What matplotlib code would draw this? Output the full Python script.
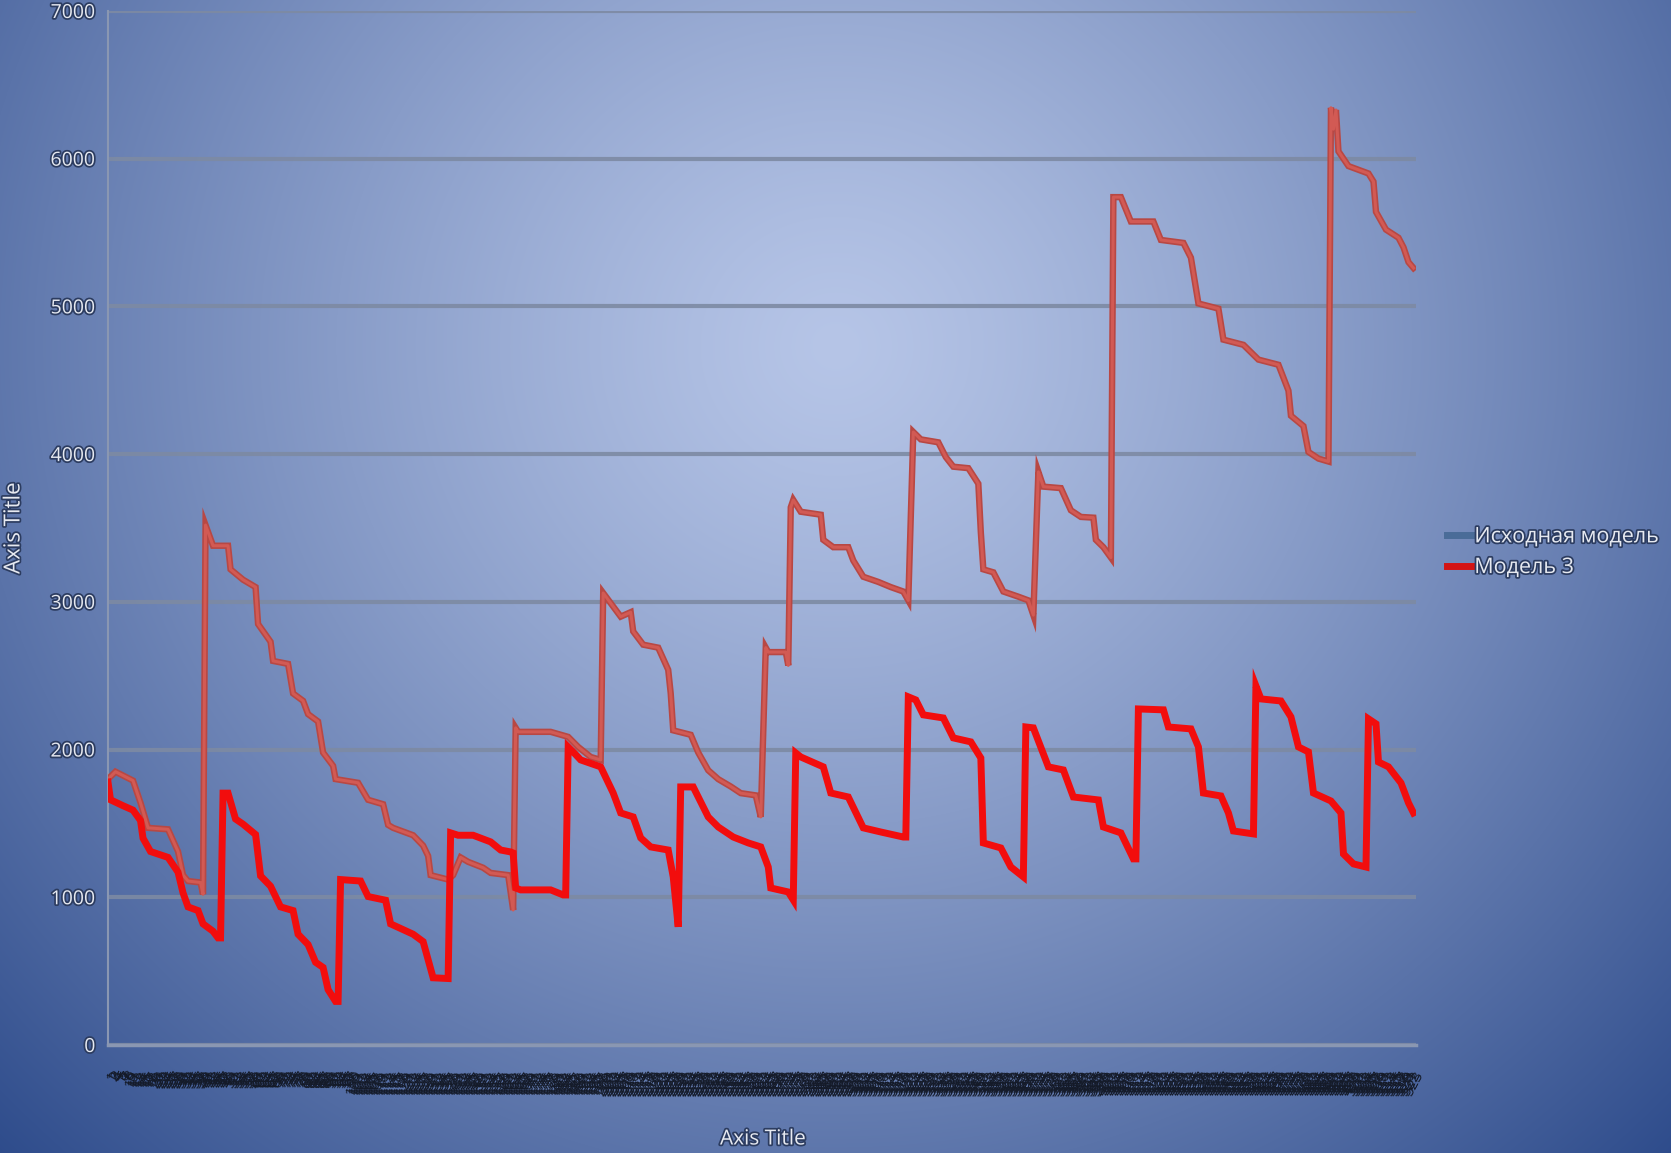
import numpy as np
import matplotlib
matplotlib.use("Agg")
import matplotlib.pyplot as plt
import matplotlib.patheffects as pe
from matplotlib.lines import Line2D

plt.rcParams['font.family'] = ['Open Sans', 'DejaVu Sans']

# series vertices: category index -> value
base_x = [0, 3, 10, 13, 16, 24, 28, 30, 32, 37, 38, 39, 42, 48, 49, 54, 59, 60, 65, 66,
          72, 74, 78, 80, 84, 86, 90, 91, 100, 104, 110, 112, 114, 122, 126, 128, 129, 136,
          138, 141, 144, 150, 153, 160, 162, 163, 164, 177, 184, 188, 193, 197, 198, 205,
          209, 210, 214, 220, 224, 225, 226, 233, 236, 240, 244, 249, 253, 259, 261, 263,
          264, 271, 272, 273, 274, 277, 285, 286, 290, 296, 298, 302, 308, 313, 318, 320,
          322, 325, 332, 335, 338, 344, 348, 349, 350, 354, 358, 364, 368, 370, 372, 374,
          381, 385, 389, 394, 395, 398, 401, 402, 405, 409, 418, 421, 430, 433, 436, 444,
          446, 454, 460, 468, 472, 473, 478, 480, 484, 488, 489, 490, 491, 492, 496, 504,
          506, 507, 511, 516, 518, 520, 522]
base_y = [1800, 1850, 1790, 1640, 1470, 1460, 1310, 1150, 1110, 1100, 1020, 3520, 3380, 3380,
          3220, 3150, 3100, 2850, 2730, 2600, 2580, 2380, 2330, 2240, 2190, 1980, 1890, 1800,
          1775, 1660, 1630, 1490, 1470, 1420, 1350, 1280, 1150, 1120, 1150, 1270, 1240, 1200,
          1165, 1150, 914, 2147, 2120, 2120, 2086, 2018, 1950, 1930, 3060, 2900, 2930, 2800,
          2710, 2690, 2540, 2380, 2130, 2100, 1980, 1860, 1800, 1750, 1705, 1690, 1544, 2690,
          2660, 2660, 2570, 3640, 3690, 3610, 3590, 3420, 3370, 3370, 3280, 3170, 3135, 3100,
          3070, 3010, 4150, 4100, 4080, 3980, 3915, 3905, 3800, 3470, 3220, 3200, 3070, 3035,
          3010, 2910, 3880, 3780, 3770, 3620, 3575, 3570, 3420, 3370, 3300, 5740, 5740, 5575,
          5575, 5450, 5430, 5330, 5020, 4985, 4775, 4740, 4640, 4605, 4430, 4260, 4190, 4015,
          3970, 3950, 6345, 6200, 6330, 6050, 5950, 5900, 5845, 5640, 5520, 5465, 5400, 5300,
          5260]

model3_x = [0, 1, 6, 10, 13, 14, 17, 24, 28, 30, 32, 36, 38, 42, 44, 45, 46, 48, 51, 54,
            59, 61, 65, 69, 74, 76, 80, 83, 86, 88, 91, 92, 93, 101, 104, 111, 113, 122, 126,
            129, 130, 136, 137, 140, 146, 153, 157, 161, 162, 163, 165, 177, 182, 183, 184,
            186, 189, 197, 202, 205, 210, 213, 217, 224, 226, 228, 229, 234, 240, 244, 250,
            256, 261, 264, 265, 272, 274, 275, 277, 286, 289, 296, 302, 309, 318, 319, 320,
            323, 326, 334, 338, 345, 349, 350, 357, 361, 366, 367, 370, 376, 382, 386, 396,
            398, 405, 410, 411, 412, 422, 424, 433, 436, 438, 445, 448, 450, 458, 459, 461,
            469, 473, 476, 480, 482, 489, 493, 494, 498, 503, 504, 507, 508, 512, 517, 520,
            522]
model3_y = [1780, 1660, 1620, 1590, 1520, 1400, 1310, 1270, 1170, 1030, 935, 910, 820, 770,
            725, 725, 1705, 1705, 1530, 1495, 1425, 1145, 1075, 935, 910, 750, 680, 560, 525,
            375, 295, 295, 1120, 1110, 1005, 980, 820, 750, 700, 515, 455, 450, 1436, 1420,
            1420, 1375, 1320, 1307, 1300, 1063, 1050, 1050, 1016, 1016, 2018, 1984, 1930,
            1883, 1706, 1571, 1544, 1402, 1341, 1320, 1138, 800, 1747, 1747, 1544, 1476,
            1408, 1368, 1341, 1205, 1063, 1036, 982, 1977, 1950, 1883, 1706, 1679, 1470, 1442,
            1408, 1408, 2357, 2336, 2235, 2214, 2079, 2052, 1943, 1368, 1334, 1205, 1138, 2153,
            2147, 1883, 1862, 1679, 1659, 1476, 1436, 1260, 1260, 2275, 2269, 2153, 2140, 2018,
            1706, 1686, 1571, 1449, 1429, 2431, 2343, 2329, 2221, 2018, 1984, 1706, 1652, 1571,
            1293, 1226, 1205, 2208, 2174, 1916, 1883, 1774, 1639, 1571]

n_categories = 523
category_labels = [str(i + 1) for i in range(n_categories)]
series_names = ["Исходная модель", "Модель 3"]
y_ticks = [0, 1000, 2000, 3000, 4000, 5000, 6000, 7000]

W, H = 1671, 1153
fig = plt.figure(figsize=(W / 100, H / 100), dpi=100)

# radial blue background
bg = fig.add_axes([0, 0, 1, 1], zorder=-10)
yy, xx = np.mgrid[0:H, 0:W]
r = np.sqrt(((xx - 0.50 * W) / (0.72 * W)) ** 2 + ((yy - 0.30 * H) / (1.0 * H)) ** 2)
r = np.clip(r, 0, 1) ** 1.25
light = np.array([182, 197, 231]) / 255
dark = np.array([44, 74, 138]) / 255
img = light[None, None, :] * (1 - r[..., None]) + dark[None, None, :] * r[..., None]
bg.imshow(img, aspect='auto', extent=[0, 1, 0, 1])
bg.axis('off')

ax = fig.add_axes([108 / W, 1 - 1045 / H, 1308 / W, 1034 / H])
ax.patch.set_alpha(0)

shadow = [pe.withStroke(linewidth=2.5, foreground='#2c3c60')]

ax.plot(base_x, base_y, color='#b84844', lw=4.6, solid_joinstyle='miter', zorder=3)
ax.plot(base_x, base_y, color='#d25a54', lw=2.2, zorder=3)
ax.plot(model3_x, model3_y, color='#f20d0d', lw=5.0, solid_joinstyle='miter', zorder=4)

ax.set_xlim(0, n_categories)
ax.set_ylim(0, 7000)
ax.set_yticks(y_ticks)
ax.set_yticklabels([str(t) for t in y_ticks], color='#e6e9f0', fontsize=14,
                   path_effects=shadow)
ax.tick_params(axis='y', length=0, pad=9)
ax.grid(axis='y', color='#7d8aa3', lw=3.0, alpha=0.9)
ax.set_axisbelow(True)

# dense category labels pile up into a dark band under the axis
ax.set_xticks(range(n_categories))
ax.set_xticklabels(category_labels, rotation=62, fontsize=11, color='#141a28',
                   ha='right', rotation_mode='anchor')
ax.tick_params(axis='x', length=0, pad=17)

for side in ['top', 'right']:
    ax.spines[side].set_visible(False)
ax.spines['left'].set_color('#8a97b2')
ax.spines['left'].set_linewidth(1.5)
ax.spines['bottom'].set_color('#8a97b2')
ax.spines['bottom'].set_linewidth(2.5)

fig.text(14 / W, 1 - 528 / H, "Axis Title", rotation=90, ha='center', va='center',
         color='#e6e9f0', fontsize=16, path_effects=shadow)
fig.text(763 / W, 1 - 1139 / H, "Axis Title", ha='center', va='center',
         color='#e6e9f0', fontsize=15, path_effects=shadow)

handles = [Line2D([], [], color='#4a6c98', lw=5),
           Line2D([], [], color='#d41414', lw=5)]
leg = fig.legend(handles, series_names, loc='upper left',
                 bbox_to_anchor=(1428 / W, 1 - 507 / H), frameon=False,
                 fontsize=15.5, handlelength=1.1, handletextpad=0.15, labelspacing=0.45)
for t in leg.get_texts():
    t.set_color('#e6e9f0')
    t.set_path_effects(shadow)

fig.savefig("out.png", dpi=100)
